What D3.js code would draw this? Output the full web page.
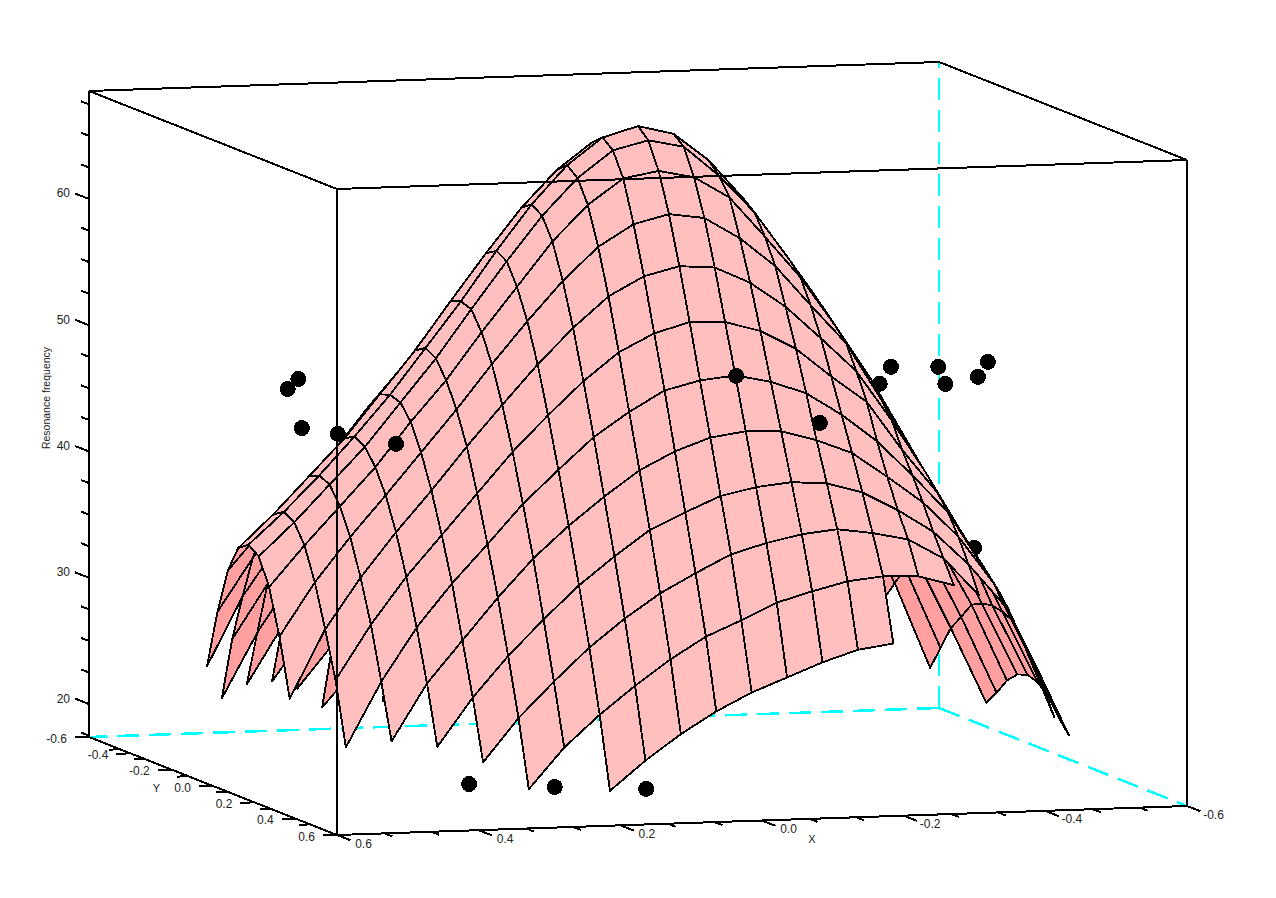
<!DOCTYPE html>
<html><head><meta charset="utf-8">
<script src="https://cdn.jsdelivr.net/npm/d3@7/dist/d3.min.js"></script>
<style>html,body{margin:0;padding:0;background:#fff}svg{display:block}text{font-family:"Liberation Sans",Arial,sans-serif;fill:#222}</style>
</head><body>
<script>
// grid coordinates
const xValues=[0.55,0.5,0.45,0.4,0.35,0.3,0.25,0.2,0.15,0.1,0.05,0,-0.05,-0.1,-0.15,-0.2,-0.25,-0.3,-0.35,-0.4,-0.45,-0.5,-0.55];
const yValues=[-0.55,-0.5,-0.45,-0.4,-0.35,-0.3,-0.25,-0.2,-0.15,-0.1,-0.05,0,0.05,0.1,0.15,0.2,0.25,0.3,0.35,0.4,0.45,0.5,0.55];
const _=null;
// resonance frequency, one row per y value, one column per x value
const zRows=[
[_,_,_,_,_,_,_,19.8,22.1,24.1,25.8,27.2,28.3,29.4,30.3,30.7,_,_,_,_,_,_,_],
[_,_,_,_,_,19.8,23.0,25.5,27.7,29.7,31.4,32.6,33.9,34.7,35.4,35.7,35.6,34.8,_,_,_,_,_],
[_,_,_,_,21.7,25.1,27.9,30.5,32.7,34.6,36.1,37.5,38.3,38.9,39.2,38.8,38.2,36.6,33.6,_,_,_,_],
[_,_,_,22.7,26.5,29.7,32.5,35.1,37.3,39.3,40.6,41.8,42.4,42.7,42.5,41.7,40.2,38.4,35.7,32.4,_,_,_],
[_,_,22.9,27.4,30.7,34.0,37.0,39.5,41.7,43.7,45.1,46.1,46.5,46.4,45.6,44.5,42.5,40.4,37.6,33.8,28.0,_,_],
[_,22.2,27.3,31.5,34.9,37.9,41.0,43.6,46.1,48.0,49.6,50.3,50.6,50.0,49.0,47.2,45.0,42.2,39.2,34.7,29.5,22.7,_],
[_,27.2,31.5,35.2,38.4,41.6,44.8,47.6,50.2,52.4,53.8,54.6,54.5,53.7,52.2,49.9,47.8,43.9,40.4,35.7,31.0,24.6,_],
[25.5,30.9,34.9,38.4,41.6,45.0,48.2,51.3,54.1,56.5,58.0,58.7,58.5,57.2,55.2,52.6,49.9,45.9,41.5,36.7,32.2,26.5,20.5],
[30.1,34.3,37.8,41.0,44.3,47.6,51.1,54.4,57.5,60.1,61.8,62.5,62.1,60.4,58.1,54.9,51.8,47.2,42.4,37.7,33.2,27.7,21.6],
[33.7,36.9,39.9,42.9,46.4,49.6,53.3,56.8,60.3,63.1,65.1,65.6,65.0,63.3,60.1,56.8,52.8,48.5,43.6,38.7,34.1,29.0,22.9],
[35.8,38.4,41.3,44.2,47.6,51.0,54.8,58.5,62.0,64.9,67.0,67.7,67.1,64.7,61.7,57.8,53.7,49.3,44.6,39.7,35.1,29.4,23.7],
[36.4,38.9,41.7,44.7,47.9,51.5,55.1,59.0,62.6,65.6,67.7,68.5,67.8,65.6,62.4,58.6,54.6,50.3,45.6,40.7,36.0,29.6,24.0],
[35.8,38.4,41.3,44.2,47.6,51.0,54.8,58.5,62.0,64.9,67.0,67.7,67.1,64.7,61.7,57.8,53.7,49.3,44.6,39.7,35.1,29.4,23.7],
[33.7,36.9,39.9,42.9,46.4,49.6,53.3,56.8,60.3,63.1,65.1,65.6,65.0,63.3,60.1,56.8,52.8,48.5,43.6,38.7,34.1,29.0,22.9],
[30.1,34.3,37.8,41.0,44.3,47.6,51.1,54.4,57.5,60.1,61.8,62.5,62.1,60.4,58.1,54.9,51.8,47.2,42.4,37.7,33.2,27.7,21.6],
[25.5,30.9,34.9,38.4,41.6,45.0,48.2,51.3,54.1,56.5,58.0,58.7,58.5,57.2,55.2,52.6,49.9,45.9,41.5,36.7,32.2,26.5,20.5],
[_,27.2,31.5,35.2,38.4,41.6,44.8,47.6,50.2,52.4,53.8,54.6,54.5,53.7,52.2,49.9,47.8,43.9,40.4,35.7,31.0,24.6,_],
[_,22.2,27.3,31.5,34.9,37.9,41.0,43.6,46.1,48.0,49.6,50.3,50.6,50.0,49.0,47.2,45.0,42.2,39.2,34.7,29.5,22.7,_],
[_,_,22.9,27.4,30.7,34.0,37.0,39.5,41.7,43.7,45.1,46.1,46.5,46.4,45.6,44.5,42.5,40.4,37.6,33.8,28.0,_,_],
[_,_,_,22.7,26.5,29.7,32.5,35.1,37.3,39.3,40.6,41.8,42.4,42.7,42.5,41.7,40.2,38.4,35.7,32.4,_,_,_],
[_,_,_,_,21.7,25.1,27.9,30.5,32.7,34.6,36.1,37.5,38.3,38.9,39.2,38.8,38.2,36.6,33.6,_,_,_,_],
[_,_,_,_,_,19.8,23.0,25.5,27.7,29.7,31.4,32.6,33.9,34.7,35.4,35.7,35.6,34.8,_,_,_,_,_],
[_,_,_,_,_,_,_,19.8,22.1,24.1,25.8,27.2,28.3,29.4,30.3,30.7,_,_,_,_,_,_,_]
];
// measured points [x, y, z]
const hiddenPoints=[[-0.562,-0.3,32.08]];
const pointsX=[0.399,0.278,0.149,0.392,0.407,0.387,0.453,0.4,-0.051,-0.14,-0.312,-0.328,-0.453,-0.463,-0.48,-0.494];
const pointsY=[0.55,0.55,0.55,-0.3,-0.3,-0.3,0.1,0.2,0.3,0.4,0.1,0.1,-0.1,-0.1,0,0];
const pointsZ=[20.72,20.25,19.85,47.29,46.52,43.39,45.64,45.39,50.56,47.31,48.14,49.45,47.92,46.55,47.72,48.88];
// axes
const xTicks=[0.6,0.4,0.2,0,-0.2,-0.4,-0.6];
const xMinor=[0.533,0.467,0.333,0.267,0.133,0.067,-0.067,-0.133,-0.267,-0.333,-0.467,-0.533];
const yTicks=[-0.6,-0.4,-0.2,0,0.2,0.4,0.6];
const yMinor=[-0.45,-0.33,-0.12,0.07,0.28,0.47];
const zTicks=[20,30,40,50,60];
const zMinor=[17.5,22.5,25,27.5,32.5,35,37.5,42.5,45,47.5,52.5,55,57.5,62.5,65,67.5];
const xLabel="X",yLabel="Y",zLabel="Resonance frequency";

const W=1276,H=898;
const X=d3.scaleLinear().domain([0.6,-0.6]).range([0,1]);
const Y=d3.scaleLinear().domain([0.6,-0.6]).range([0,1]);
const Z=d3.scaleLinear().domain([17.39,68.55]).range([0,1]);
const o=[337,835],ex=[850,-29],ey=[-248,-98],ez=[0,-646];
const P=(x,y,z)=>{const u=X(x),v=Y(y),w=Z(z);return [o[0]+u*ex[0]+v*ey[0]+w*ez[0],o[1]+u*ex[1]+v*ey[1]+w*ez[1]];};
const zLo=Z.domain()[0],zHi=Z.domain()[1];
const svg=d3.select("body").append("svg").attr("width",W).attr("height",H).style("shape-rendering","crispEdges");
const line=d3.line();
const seg=(g,a,b,sw,col)=>g.append("path").attr("d",line([a,b])).attr("stroke",col||"#000").attr("stroke-width",sw||2).attr("fill","none");

// back box
const back=svg.append("g");
const corner=P(-0.6,-0.6,zLo);
[P(0.6,-0.6,zLo),P(-0.6,0.6,zLo),P(-0.6,-0.6,zHi)].forEach(q=>{
  back.append("path").attr("d",line([corner,q])).attr("stroke","#00ffff").attr("stroke-width",2.5).attr("stroke-dasharray","22 10").attr("fill","none");
});
seg(back,P(0.6,-0.6,zHi),P(-0.6,-0.6,zHi));
seg(back,P(-0.6,-0.6,zHi),P(-0.6,0.6,zHi));
seg(back,P(0.6,-0.6,zLo),P(0.6,-0.6,zHi));
seg(back,P(-0.6,0.6,zLo),P(-0.6,0.6,zHi));

const dot=(g,x,y,z)=>{const p=P(x,y,z);g.append("circle").attr("cx",p[0]).attr("cy",p[1]).attr("r",8).attr("fill","#000");};
const g0=svg.append("g");
hiddenPoints.forEach(d=>dot(g0,d[0],d[1],d[2]));

// surface, painted from the far side to the near side
const surf=svg.append("g").attr("stroke","#000").attr("stroke-width",1.9).attr("stroke-linejoin","round");
for(let j=0;j<yValues.length-1;j++){
  for(let i=xValues.length-2;i>=0;i--){
    const zs=[zRows[j][i],zRows[j][i+1],zRows[j+1][i+1],zRows[j+1][i]];
    if(zs.some(v=>v===null))continue;
    const pts=[P(xValues[i],yValues[j],zs[0]),P(xValues[i+1],yValues[j],zs[1]),P(xValues[i+1],yValues[j+1],zs[2]),P(xValues[i],yValues[j+1],zs[3])];
    const area=d3.polygonArea(pts);
    surf.append("path").attr("d",line(pts)+"Z").attr("fill",area<0?"#ffbfbf":"#ff9f9f");
  }
}
const g1=svg.append("g");
pointsX.forEach((x,k)=>dot(g1,x,pointsY[k],pointsZ[k]));

// front box
const front=svg.append("g");
seg(front,P(0.6,-0.6,zHi),P(0.6,0.6,zHi));
seg(front,P(0.6,0.6,zHi),P(-0.6,0.6,zHi));
seg(front,P(0.6,0.6,zLo),P(0.6,0.6,zHi));
seg(front,P(0.6,-0.6,zLo),P(0.6,0.6,zLo));
seg(front,P(0.6,0.6,zLo),P(-0.6,0.6,zLo));

// ticks and labels
const axes=svg.append("g");
const txt=(x,y,s,anchor,size)=>axes.append("text").attr("x",x).attr("y",y).attr("text-anchor",anchor||"middle").attr("dominant-baseline","central").style("font-size",(size||12)+"px").style("shape-rendering","auto").text(s);
const fmt=v=>d3.format(".1f")(v).replace("\u2212","-");
xTicks.forEach(t=>{const p=P(t,0.6,zLo);seg(axes,p,[p[0]+13.5,p[1]+5.3]);txt(p[0]+26.5,p[1]+8.5,fmt(t));});
xMinor.forEach(t=>{const p=P(t,0.6,zLo);seg(axes,p,[p[0]+8,p[1]+3]);});
yTicks.forEach(t=>{const p=P(0.6,t,zLo);seg(axes,p,[p[0]-14,p[1]+0.5]);txt(p[0]-22,p[1]+1.5,fmt(t),"end");});
yMinor.forEach(t=>{const p=P(0.6,t,zLo);seg(axes,p,[p[0]-11,p[1]+0.4]);});
zTicks.forEach(t=>{const p=P(0.6,-0.6,t);seg(axes,p,[p[0]-14,p[1]-5.5]);txt(70,p[1]-5.5,String(t),"end");});
zMinor.forEach(t=>{const p=P(0.6,-0.6,t);seg(axes,p,[p[0]-8,p[1]-3]);});
txt(812,839,xLabel,"middle",11);
txt(156.5,788,yLabel,"middle",11);
axes.append("text").attr("transform","translate(46,398) rotate(-90)").attr("text-anchor","middle").attr("dominant-baseline","central").style("font-size","10.5px").text(zLabel);
</script>
</body></html>
